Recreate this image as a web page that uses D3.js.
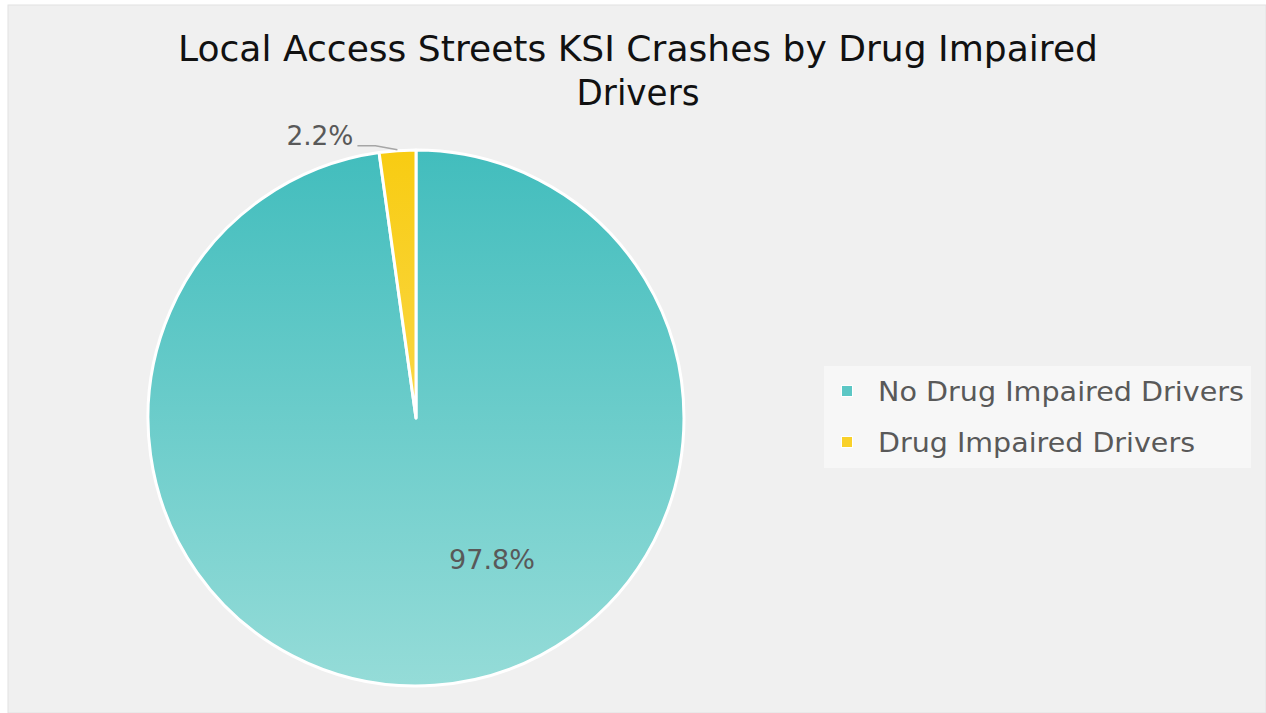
<!DOCTYPE html>
<html>
<head>
<meta charset="utf-8">
<script src="https://cdn.jsdelivr.net/npm/d3@7"></script>
<style>
  body { margin: 0; background: #fff; }
  text { font-family: "DejaVu Sans", sans-serif; }
</style>
</head>
<body>
<div id="graf"></div>
<script>
const categories = ["No Drug Impaired Drivers", "Drug Impaired Drivers"]
const shares = [97.8, 2.2]
const labels = ["97.8%", "2.2%"]
const titleLines = ["Local Access Streets KSI Crashes by Drug Impaired", "Drivers"]

const anchoTotal = 1266
const altoTotal = 713

const svg = d3.select("#graf")
  .append("svg")
  .attr("width", anchoTotal)
  .attr("height", altoTotal)

const defs = svg.append("defs")
const gradTeal = defs.append("linearGradient")
  .attr("id", "gTeal").attr("gradientUnits", "userSpaceOnUse")
  .attr("x1", 0).attr("y1", -268).attr("x2", 0).attr("y2", 268)
gradTeal.append("stop").attr("offset", "0%").attr("stop-color", "#42bdbd")
gradTeal.append("stop").attr("offset", "100%").attr("stop-color", "#95dcd8")
const gradYel = defs.append("linearGradient")
  .attr("id", "gYel").attr("gradientUnits", "userSpaceOnUse")
  .attr("x1", 0).attr("y1", -268).attr("x2", 0).attr("y2", 268)
gradYel.append("stop").attr("offset", "0%").attr("stop-color", "#f8cc12")
gradYel.append("stop").attr("offset", "100%").attr("stop-color", "#fbe27a")

// fondo
svg.append("rect")
  .attr("x", 8).attr("y", 5)
  .attr("width", anchoTotal - 8).attr("height", altoTotal - 5)
  .attr("fill", "#f0f0f0")
  .attr("stroke", "#e2e2e2")

// titulo
const titleW = [920, 123]
svg.append("g")
  .selectAll("text")
  .data(titleLines)
  .enter()
  .append("text")
  .attr("x", 638)
  .attr("y", (d, i) => 61 + i * 44)
  .attr("text-anchor", "middle")
  .attr("font-size", 35)
  .attr("textLength", (d, i) => titleW[i])
  .attr("lengthAdjust", "spacingAndGlyphs")
  .attr("fill", "#111")
  .text((d) => d)

const radio = 268
const g = svg.append("g").attr("transform", "translate(416, 418)")

const color = d3.scaleOrdinal().domain(categories).range(["url(#gTeal)", "url(#gYel)"])
const swatch = d3.scaleOrdinal().domain(categories).range(["#5cc7c5", "#f9d12a"])

const pie = d3.pie().sort(null).value((d) => d.v)
const data = categories.map((c, i) => ({ c, v: shares[i], label: labels[i] }))
const arcs = pie(data)
const arc = d3.arc().innerRadius(0).outerRadius(radio)

g.selectAll("path")
  .data(arcs)
  .enter()
  .append("path")
  .attr("d", arc)
  .attr("fill", (d) => color(d.data.c))
  .attr("stroke", "#fff")
  .attr("stroke-width", 3)
  .attr("stroke-linejoin", "round")

// etiqueta grande, dentro
const big = arcs[0]
g.append("text")
  .attr("x", 76)
  .attr("y", 151)
  .attr("text-anchor", "middle")
  .attr("font-size", 26)
  .attr("textLength", 86)
  .attr("lengthAdjust", "spacingAndGlyphs")
  .attr("fill", "#595959")
  .text(big.data.label)

// etiqueta pequeña, fuera con linea
const small = arcs[1]
const mid = (small.startAngle + small.endAngle) / 2
const p0 = [Math.sin(mid) * (radio + 1), -Math.cos(mid) * (radio + 1)]
g.append("polyline")
  .attr("points", [p0, [p0[0] - 22, p0[1] - 4], [p0[0] - 40, p0[1] - 4]].map((p) => p.join(",")).join(" "))
  .attr("fill", "none")
  .attr("stroke", "#a6a6a6")
  .attr("stroke-width", 1.5)
g.append("text")
  .attr("x", p0[0] - 44)
  .attr("y", p0[1] - 5)
  .attr("text-anchor", "end")
  .attr("font-size", 26)
  .attr("textLength", 67)
  .attr("lengthAdjust", "spacingAndGlyphs")
  .attr("fill", "#595959")
  .text(small.data.label)

// leyenda
const legW = [366, 317]
const leg = svg.append("g")
leg.append("rect")
  .attr("x", 824).attr("y", 366)
  .attr("width", 427).attr("height", 102)
  .attr("fill", "#f7f7f7")
const items = leg.selectAll("g.item")
  .data(categories)
  .enter()
  .append("g")
  .attr("transform", (d, i) => `translate(847, ${391 + i * 51})`)
items.append("rect")
  .attr("x", -6).attr("y", -6)
  .attr("width", 12).attr("height", 12)
  .attr("fill", "#fff")
items.append("rect")
  .attr("x", -5).attr("y", -5)
  .attr("width", 10).attr("height", 10)
  .attr("fill", (d) => swatch(d))
items.append("text")
  .attr("x", 31)
  .attr("y", 10)
  .attr("font-size", 27)
  .attr("textLength", (d, i) => legW[i])
  .attr("lengthAdjust", "spacingAndGlyphs")
  .attr("fill", "#595959")
  .text((d) => d)
</script>
</body>
</html>
